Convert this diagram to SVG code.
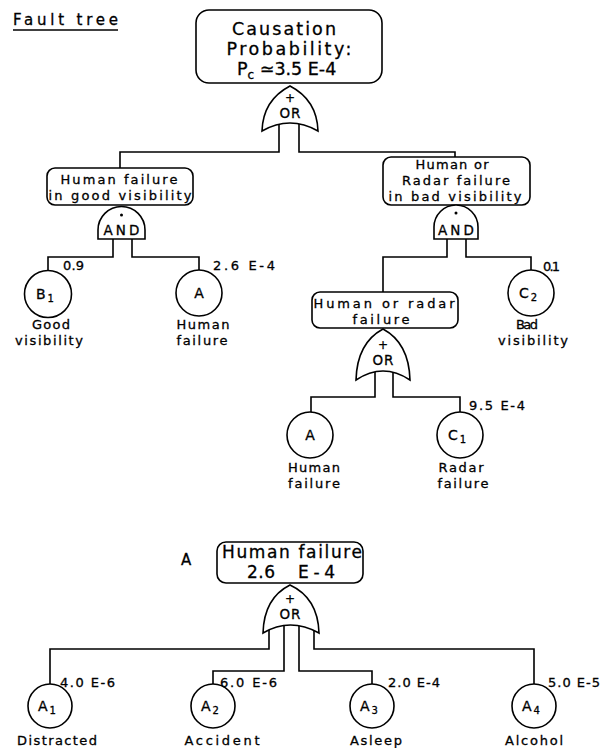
<svg xmlns="http://www.w3.org/2000/svg" width="602" height="748" viewBox="0 0 602 748">
  <style>
    .ln { fill: none; stroke: #000; stroke-width: 1.6; stroke-linejoin: miter; }
    .box { fill: #fff; stroke: #000; stroke-width: 1.6; }
    text { font-family: "DejaVu Sans", "Liberation Sans", sans-serif; fill: #000; stroke: #000; stroke-width: 0.3; font-size: 13px; }
    .c { text-anchor: middle; }
    .big { font-size: 17.5px; }
    .mid { font-size: 17px; }
    .head { font-size: 15px; }
    .gate { font-size: 13.5px; text-anchor: middle; }
    .ev { font-size: 14px; text-anchor: middle; }
    .sub { font-size: 10px; }
    .subc { font-size: 12px; }
    .sym { font-size: 12px; text-anchor: middle; }
  </style>

  <!-- heading -->
  <text class="head" x="13" y="25" textLength="105">Fault tree</text>
  <line class="ln" x1="13" y1="30" x2="118" y2="30"/>

  <!-- connectors -->
  <g id="connectors">
    <path class="ln" d="M279,118 V152 H120 V168"/>
    <path class="ln" d="M299,118 V152 H455 V157"/>
    <path class="ln" d="M113,232 V257 H48 V271"/>
    <path class="ln" d="M132,232 V257 H199 V270"/>
    <path class="ln" d="M447,232 V257 H383 V292"/>
    <path class="ln" d="M466,232 V257 H531 V270"/>
    <path class="ln" d="M375,366 V397 H311 V412"/>
    <path class="ln" d="M393,366 V397 H460 V412"/>
    <path class="ln" d="M269,624 V649 H50 V684"/>
    <path class="ln" d="M284,620 V671 H213 V684"/>
    <path class="ln" d="M299,620 V671 H372 V684"/>
    <path class="ln" d="M314,624 V649 H534 V684"/>
  </g>

  <!-- top event -->
  <g id="top-event">
    <rect class="box" x="196" y="10" width="186" height="73" rx="13"/>
    <text class="c big" x="284" y="35" textLength="104">Causation</text>
    <text class="c big" x="289" y="55" textLength="125">Probability:</text>
    <text class="big" x="237" y="75">P<tspan class="subc" dy="4">c</tspan><tspan dy="-4"> ≃3.5 E-4</tspan></text>
  </g>

  <g id="or-top">
    <path class="box" d="M290,86 Q263,100 262,131 Q290,115 318,131 Q317,100 290,86 Z"/>
    <text class="sym" x="290" y="102">+</text>
    <text class="gate" x="290" y="118" textLength="21">OR</text>
  </g>

  <!-- left branch: human failure in good visibility -->
  <g id="good-visibility">
    <rect class="box" x="47" y="168" width="146" height="37" rx="8"/>
    <text class="c" x="119" y="184" textLength="117">Human failure</text>
    <text class="c" x="120" y="200" textLength="143">in good visibility</text>
  </g>

  <g id="and-left">
    <path class="box" d="M98,239 V230 A23.5,23.5 0 0 1 145,230 V239 Z"/>
    <circle cx="121.5" cy="215" r="1.5" fill="#000"/>
    <text class="gate" x="121.5" y="235" textLength="36">AND</text>
  </g>

  <g id="event-b1">
    <circle class="box" cx="48" cy="294" r="23.5"/>
    <text class="ev" x="45" y="299">B<tspan class="sub" dx="2" dy="3">1</tspan></text>
    <text x="63" y="270" textLength="21">0.9</text>
    <text class="c" x="51" y="329" textLength="38">Good</text>
    <text class="c" x="49" y="345" textLength="68">visibility</text>
  </g>

  <g id="event-a-left">
    <circle class="box" cx="199" cy="293" r="23"/>
    <text class="ev" x="199" y="298">A</text>
    <text x="213" y="270" textLength="62">2.6 E-4</text>
    <text class="c" x="203" y="329" textLength="53">Human</text>
    <text class="c" x="202" y="345" textLength="51">failure</text>
  </g>

  <!-- right branch: human or radar failure in bad visibility -->
  <g id="bad-visibility">
    <rect class="box" x="383" y="157" width="147" height="48" rx="8"/>
    <text class="c" x="452" y="169" textLength="73">Human or</text>
    <text class="c" x="456" y="185" textLength="108">Radar failure</text>
    <text class="c" x="455" y="201" textLength="133">in bad visibility</text>
  </g>

  <g id="and-right">
    <path class="box" d="M434,239 V227 A22,22 0 0 1 478,227 V239 Z"/>
    <circle cx="456" cy="213" r="1.5" fill="#000"/>
    <text class="gate" x="456" y="235" textLength="36">AND</text>
  </g>

  <g id="event-c2">
    <circle class="box" cx="531" cy="293" r="23"/>
    <text class="ev" x="528" y="298">C<tspan class="sub" dx="2" dy="3">2</tspan></text>
    <text x="543" y="271" textLength="17">0.1</text>
    <text class="c" x="527" y="329" textLength="22">Bad</text>
    <text class="c" x="533" y="345" textLength="70">visibility</text>
  </g>

  <g id="human-or-radar">
    <rect class="box" x="312" y="292" width="146" height="36" rx="8"/>
    <text class="c" x="384" y="308" textLength="141">Human or radar</text>
    <text class="c" x="381" y="324" textLength="57">failure</text>
  </g>

  <g id="or-mid">
    <path class="box" d="M383,329 Q357,343 356,380 Q383,362 410,380 Q409,343 383,329 Z"/>
    <text class="sym" x="383" y="349">+</text>
    <text class="gate" x="383" y="365" textLength="21">OR</text>
  </g>

  <g id="event-a-mid">
    <circle class="box" cx="310" cy="435" r="23"/>
    <text class="ev" x="310" y="440">A</text>
    <text class="c" x="314" y="472" textLength="52">Human</text>
    <text class="c" x="314" y="488" textLength="52">failure</text>
  </g>

  <g id="event-c1">
    <circle class="box" cx="460" cy="435" r="23"/>
    <text class="ev" x="457" y="440">C<tspan class="sub" dx="2" dy="3">1</tspan></text>
    <text x="469" y="410" textLength="56">9.5 E-4</text>
    <text class="c" x="461" y="472" textLength="45">Radar</text>
    <text class="c" x="463" y="488" textLength="51">failure</text>
  </g>

  <!-- sub-tree A: human failure -->
  <g id="human-failure">
    <text class="head" x="181" y="565">A</text>
    <rect class="box" x="217" y="542" width="146" height="41" rx="9"/>
    <text class="c mid" x="292" y="558" textLength="140">Human failure</text>
    <text class="mid" x="247" y="578" textLength="28">2.6</text>
    <text class="mid" x="298" y="578" textLength="37">E-4</text>
  </g>

  <g id="or-bottom">
    <path class="box" d="M290,585 Q264,598 263,633 Q290,617 319,633 Q318,598 290,585 Z"/>
    <text class="sym" x="290" y="603">+</text>
    <text class="gate" x="290" y="619" textLength="21">OR</text>
  </g>

  <g id="event-a1">
    <circle class="box" cx="50" cy="706" r="22"/>
    <text class="ev" x="47" y="711">A<tspan class="sub" dx="2" dy="3">1</tspan></text>
    <text x="60" y="687" textLength="55">4.0 E-6</text>
    <text class="c" x="57" y="745" textLength="80">Distracted</text>
  </g>

  <g id="event-a2">
    <circle class="box" cx="213" cy="706" r="22"/>
    <text class="ev" x="210" y="711">A<tspan class="sub" dx="2" dy="3">2</tspan></text>
    <text x="220" y="687" textLength="57">6.0 E-6</text>
    <text class="c" x="222" y="745" textLength="75">Accident</text>
  </g>

  <g id="event-a3">
    <circle class="box" cx="372" cy="706" r="22"/>
    <text class="ev" x="369" y="711">A<tspan class="sub" dx="2" dy="3">3</tspan></text>
    <text x="388" y="687" textLength="52">2.0 E-4</text>
    <text class="c" x="376" y="745" textLength="52">Asleep</text>
  </g>

  <g id="event-a4">
    <circle class="box" cx="534" cy="706" r="22"/>
    <text class="ev" x="531" y="711">A<tspan class="sub" dx="2" dy="3">4</tspan></text>
    <text x="548" y="687" textLength="52">5.0 E-5</text>
    <text class="c" x="534" y="745" textLength="58">Alcohol</text>
  </g>
</svg>
